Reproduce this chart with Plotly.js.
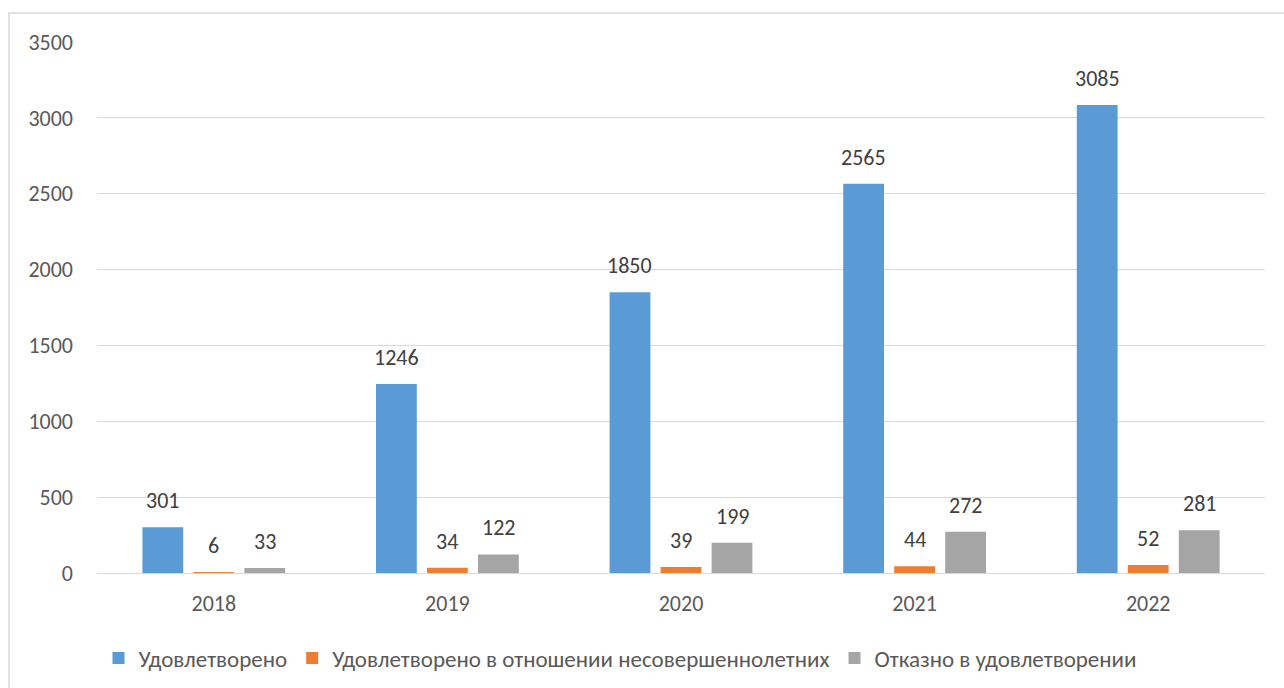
<!DOCTYPE html>
<html>
<head>
<meta charset="utf-8">
<script src="https://cdn.plot.ly/plotly-3.0.1.min.js"></script>
<style>
html,body{margin:0;padding:0;background:#fff;}
#chart{width:1284px;height:688px;}
</style>
</head>
<body>
<div id="chart"></div>
<script>
const years = ["2018", "2019", "2020", "2021", "2022"];
const seriesNames = ["Удовлетворено", "Удовлетворено в отношении несовершеннолетних", "Отказно в удовлетворении"];
const satisfied = [301, 1246, 1850, 2565, 3085];
const satisfiedMinors = [6, 34, 39, 44, 52];
const refused = [33, 122, 199, 272, 281];
const colors = ["#5B9BD5", "#ED7D31", "#A5A5A5"];
const yTicks = [0, 500, 1000, 1500, 2000, 2500, 3000, 3500];

const fontFamily = "Carlito, 'Noto Sans', 'Open Sans', sans-serif";
const W = 1284, H = 688;
const margin = {l: 97, r: 19, t: 42, b: 115, autoexpand: false};
const bargap = 0.345, bargroupgap = 0.2;
const plotW = W - margin.l - margin.r;
const plotH = H - margin.t - margin.b;
const slot = plotW / years.length * (1 - bargap) / 3;

const series = [satisfied, satisfiedMinors, refused];
const traces = series.map((vals, i) => ({
  type: "bar",
  name: seriesNames[i],
  x: years,
  y: vals,
  marker: {color: colors[i]},
  hoverinfo: "x+y+name"
}));

const annotations = [];
series.forEach((vals, i) => {
  vals.forEach((v, j) => {
    annotations.push({
      x: j, y: v, xref: "x", yref: "y",
      text: String(v),
      showarrow: false,
      xanchor: "center", yanchor: "bottom",
      xshift: (i - 1) * slot,
      yshift: 11,
      font: {family: fontFamily, size: 22, color: "#404040"}
    });
  });
});

const layout = {
  width: W,
  height: H,
  margin: margin,
  paper_bgcolor: "#ffffff",
  plot_bgcolor: "#ffffff",
  barmode: "group",
  bargap: bargap,
  bargroupgap: bargroupgap,
  font: {family: fontFamily, color: "#595959", size: 22},
  xaxis: {
    type: "category",
    range: [-0.5, years.length - 0.5],
    showgrid: false,
    showline: true,
    linecolor: "#D9D9D9",
    linewidth: 1,
    ticks: "",
    ticklabelstandoff: 11,
    tickfont: {family: fontFamily, size: 22, color: "#595959"}
  },
  yaxis: {
    range: [0, 3500],
    tickvals: yTicks,
    ticktext: yTicks.map(String),
    showgrid: true,
    gridcolor: "#D9D9D9",
    gridwidth: 1,
    zeroline: false,
    showline: false,
    ticks: "",
    ticklabelstandoff: 23,
    tickfont: {family: fontFamily, size: 22, color: "#595959"}
  },
  legend: {
    orientation: "h",
    x: (620 - margin.l) / plotW,
    xanchor: "center",
    y: -(658 - (H - margin.b)) / plotH,
    yanchor: "middle",
    font: {family: fontFamily, size: 23, color: "#595959"},
    itemwidth: 30
  },
  annotations: annotations,
  shapes: [{
    type: "rect",
    xref: "paper", yref: "paper",
    x0: -88 / plotW, x1: 1.2,
    y0: -0.5, y1: 1 + 29 / plotH,
    line: {color: "#D9D9D9", width: 1.5},
    fillcolor: "rgba(0,0,0,0)",
    layer: "below"
  }],
  showlegend: true
};

Plotly.newPlot("chart", traces, layout, {displayModeBar: false, staticPlot: true});
</script>
</body>
</html>
